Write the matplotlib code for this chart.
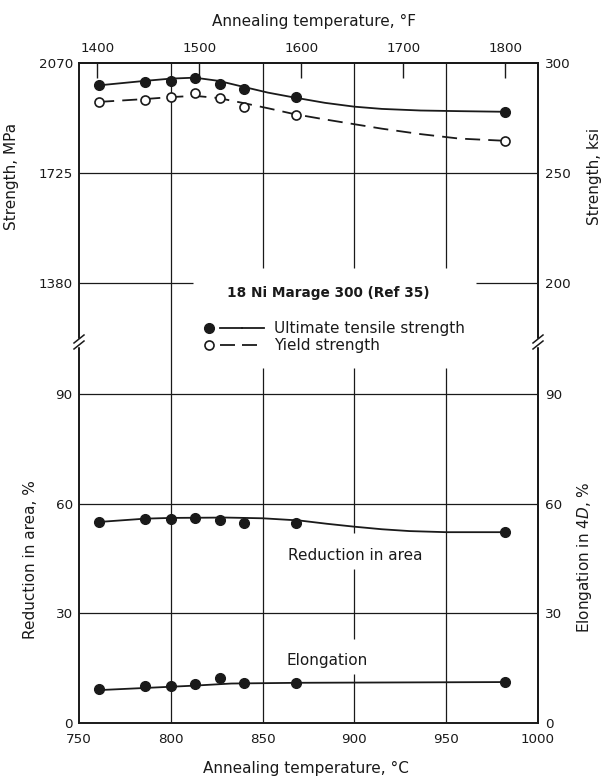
"""18 Ni Marage 300: strength and ductility against annealing temperature."""

import matplotlib

matplotlib.use("Agg")
import matplotlib.pyplot as plt
from matplotlib.legend_handler import HandlerTuple
from matplotlib.lines import Line2D

# test points, annealing temperature in deg C (1400-1800 F)
temp_c = [761, 786, 800, 813, 827, 840, 868, 982]
uts_mpa = [2000, 2010, 2013, 2024, 2005, 1989, 1962, 1917]
ys_mpa = [1948, 1955, 1962, 1976, 1960, 1933, 1907, 1826]
ra_pct = [55.0, 55.7, 55.9, 56.1, 55.4, 54.7, 54.8, 52.2]
el_pct = [9.2, 10.1, 10.2, 10.6, 12.2, 10.9, 10.9, 11.3]

# hand-faired trend curves
strength_curve_c = [761, 786, 800, 813, 826, 839, 853, 867, 884, 900, 915, 936, 957, 982]
uts_curve_mpa = [2000, 2014, 2021, 2024, 2014, 1996, 1977, 1962, 1945, 1933, 1926, 1921, 1919, 1917]
ys_curve_mpa = [1948, 1957, 1963, 1967, 1960, 1945, 1928, 1910, 1893, 1878, 1864, 1847, 1833, 1826]
ra_curve_c = [761, 786, 800, 830, 850, 870, 885, 900, 915, 930, 950, 982]
ra_curve_pct = [55.0, 55.9, 56.1, 56.2, 56.0, 55.4, 54.5, 53.7, 53.0, 52.5, 52.2, 52.2]
el_curve_c = [761, 812, 833, 870, 982]
el_curve_pct = [9.0, 10.2, 10.8, 11.0, 11.2]

mpa_ticks = [1380, 1725, 2070]
ksi_ticks = [200, 250, 300]
pct_ticks = [0, 30, 60, 90]
celsius_ticks = [750, 800, 850, 900, 950, 1000]
fahrenheit_ticks = [1400, 1500, 1600, 1700, 1800]

INK = "#1a1a1a"
FRAME_LW = 1.4
GRID_LW = 0.9
CURVE_LW = 1.3
MS = 7
TICK_FS = 9.7
TEXT_FS = 11

W_PX, H_PX = 605, 777
FRAME_L, FRAME_R, FRAME_T, BREAK_Y, FRAME_B = 79, 538, 63, 342, 723


def fx(px):
  return px / W_PX


def fy(py):
  return 1 - py / H_PX


plt.rcParams["font.family"] = ["DejaVu Sans"]
plt.rcParams["text.color"] = INK
plt.rcParams["axes.edgecolor"] = INK
plt.rcParams["xtick.color"] = INK
plt.rcParams["ytick.color"] = INK
plt.rcParams["xtick.labelcolor"] = INK
plt.rcParams["ytick.labelcolor"] = INK

fig = plt.figure(figsize=(W_PX / 100, H_PX / 100), dpi=100)
width = fx(FRAME_R) - fx(FRAME_L)
ax_bot = fig.add_axes([fx(FRAME_L), fy(FRAME_B), width, fy(BREAK_Y) - fy(FRAME_B)])
ax_top = fig.add_axes([fx(FRAME_L), fy(BREAK_Y), width, fy(FRAME_T) - fy(BREAK_Y)], sharex=ax_bot)

# both panels use 110 px per gridline step: 345 MPa on top, 30 % below
ax_top.set_ylim(2070 - (BREAK_Y - FRAME_T) / 220 * 690, 2070)
ax_bot.set_ylim(0, (FRAME_B - BREAK_Y) / (FRAME_B - 394) * 90)
ax_bot.set_xlim(750, 1000)

for ax in (ax_top, ax_bot):
  for spine in ax.spines.values():
    spine.set_linewidth(FRAME_LW)
ax_top.spines["bottom"].set_visible(False)
ax_bot.spines["top"].set_visible(False)

# gridlines, with the gaps left for the labels of the original
grid = dict(colors=INK, linewidths=GRID_LW, zorder=1)
ax_top.hlines(1725, 750, 1000, **grid)
ax_top.hlines([1380, 1380], [750, 966], [812, 1000], **grid)
ax_bot.hlines([30, 60, 90], 750, 1000, **grid)
ax_top.vlines(800, 1195, 2070, **grid)
ax_bot.vlines(800, 0, 105, **grid)
ax_top.vlines([850, 900, 950], 1427, 2070, **grid)
ax_bot.vlines([850, 950], 0, 97.1, **grid)
ax_bot.vlines([900, 900, 900], [0, 22.9, 52.1], [13.4, 42.0, 97.1], **grid)

# strength panel
uts_line, = ax_top.plot(strength_curve_c, uts_curve_mpa, color=INK, lw=CURVE_LW, zorder=2)
ys_line, = ax_top.plot(
  strength_curve_c, ys_curve_mpa, color=INK, lw=CURVE_LW, ls=(0, (8.3, 4.5)), zorder=2
)
uts_pts, = ax_top.plot(temp_c, uts_mpa, "o", color=INK, ms=MS, zorder=3)
ys_pts, = ax_top.plot(
  temp_c, ys_mpa, "o", mfc="white", mec=INK, mew=1.2, ms=MS - 0.5, zorder=3
)

# ductility panel
ax_bot.plot(ra_curve_c, ra_curve_pct, color=INK, lw=CURVE_LW, zorder=2)
ax_bot.plot(temp_c, ra_pct, "o", color=INK, ms=MS, zorder=3)
ax_bot.plot(el_curve_c, el_curve_pct, color=INK, lw=CURVE_LW, zorder=2)
ax_bot.plot(temp_c, el_pct, "o", color=INK, ms=MS, zorder=3)

# ticks and labels
ax_top.tick_params(axis="x", bottom=False, labelbottom=False)
ax_top.set_yticks(mpa_ticks)
ax_top.tick_params(axis="y", length=0, pad=4.5, labelsize=TICK_FS)
ax_bot.set_xticks(celsius_ticks)
ax_bot.set_yticks(pct_ticks)
ax_bot.tick_params(axis="x", length=0, pad=7, labelsize=TICK_FS)
ax_bot.tick_params(axis="y", length=0, pad=4.5, labelsize=TICK_FS)

top_f = ax_top.secondary_xaxis("top", functions=(lambda c: c * 9 / 5 + 32, lambda f: (f - 32) * 5 / 9))
top_f.set_xticks(fahrenheit_ticks)
top_f.tick_params(direction="in", length=10.8, width=1.0, pad=5.8, labelsize=TICK_FS)
top_f.spines["top"].set_linewidth(FRAME_LW)

right_ksi = ax_top.secondary_yaxis("right", functions=(lambda m: m / 6.895, lambda k: k * 6.895))
right_ksi.set_yticks(ksi_ticks)
right_ksi.tick_params(length=0, pad=5, labelsize=TICK_FS)
right_ksi.spines["right"].set_linewidth(FRAME_LW)

right_el = ax_bot.secondary_yaxis("right")
right_el.set_yticks(pct_ticks)
right_el.tick_params(length=0, pad=5, labelsize=TICK_FS)
right_el.spines["right"].set_linewidth(FRAME_LW)

fig.text(fx(314), fy(21), "Annealing temperature, °F", ha="center", va="center", fontsize=TEXT_FS)
fig.text(fx(306), fy(768), "Annealing temperature, °C", ha="center", va="center", fontsize=TEXT_FS)
fig.text(fx(12), fy(176), "Strength, MPa", rotation=90, ha="center", va="center", fontsize=TEXT_FS)
fig.text(fx(31), fy(560), "Reduction in area, %", rotation=90, ha="center", va="center", fontsize=TEXT_FS)
fig.text(fx(595), fy(176), "Strength, ksi", rotation=90, ha="center", va="center", fontsize=TEXT_FS)
fig.text(
  fx(584), fy(557), r"Elongation in $\mathit{4D}$, %", rotation=90, ha="center", va="center", fontsize=TEXT_FS
)

fig.text(fx(328), fy(293), "18 Ni Marage 300 (Ref 35)", ha="center", va="center", fontsize=9.8, fontweight="bold")
fig.text(fx(355), fy(555), "Reduction in area", ha="center", va="center", fontsize=TEXT_FS)
fig.text(fx(327), fy(660), "Elongation", ha="center", va="center", fontsize=TEXT_FS)

fig.legend(
  handles=[(uts_pts, uts_line, uts_line), (ys_pts, ys_line, ys_line)],
  labels=["Ultimate tensile strength", "Yield strength"],
  handler_map={tuple: HandlerTuple(ndivide=None, pad=0)},
  loc="upper left",
  bbox_to_anchor=(fx(198), fy(321)),
  frameon=False,
  fontsize=TEXT_FS,
  handlelength=4.3,
  handleheight=0.7,
  handletextpad=0.7,
  labelspacing=0.15,
  borderpad=0,
  borderaxespad=0,
)

# axis-break marks on both side spines
for x_px in (FRAME_L, FRAME_R):
  fig.add_artist(Line2D([fx(x_px)] * 2, [fy(BREAK_Y - 2), fy(BREAK_Y + 3)], color="white", lw=2.5))
  for dy in (-3, 3):
    fig.add_artist(
      Line2D([fx(x_px - 5), fx(x_px + 5)], [fy(BREAK_Y + dy + 4), fy(BREAK_Y + dy - 4)], color=INK, lw=1.1)
    )

fig.savefig("out.png", dpi=100)
plt.close(fig)
